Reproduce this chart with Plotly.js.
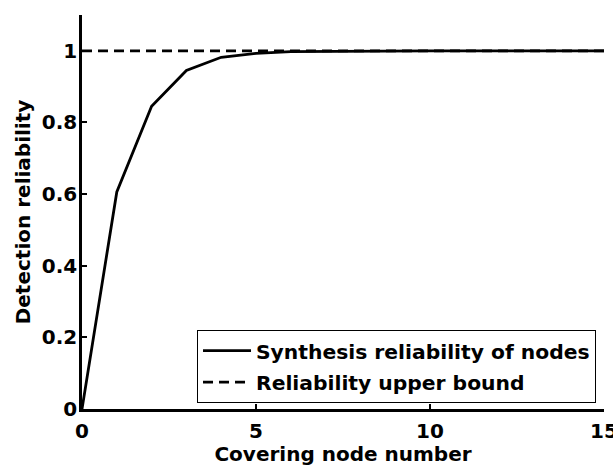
<!DOCTYPE html>
<html>
<head>
<meta charset="utf-8">
<script src="https://cdn.plot.ly/plotly-3.0.1.min.js"></script>
<style>html,body{margin:0;padding:0;background:#fff;}#chart{width:613px;height:466px;}</style>
</head>
<body>
<div id="chart"></div>
<script>
const nodeCounts = [0,1,2,3,4,5,6,7,8,9,10,11,12,13,14,15];
const synthesisReliability = [0,0.606,0.845,0.945,0.982,0.993,0.998,0.999,1,1,1,1,1,1,1,1];
const boundX = [0,15];
const upperBound = [1,1];
const yTicks = [0,0.2,0.4,0.6,0.8,1];
const yTickText = ['0','0.2','0.4','0.6','0.8','1'];
const xTicks = [0,5,10,15];

const FONT = 'DejaVu Sans, Arial, sans-serif';

const traces = [
  {x: boundX, y: upperBound, mode:'lines', name:'Reliability upper bound',
   line:{color:'#000', width:2.8, dash:'10px,6px'}, legendrank:2, legendgroup:'b'},
  {x: nodeCounts, y: synthesisReliability, mode:'lines', name:'Synthesis reliability of nodes',
   line:{color:'#000', width:2.8}, legendrank:1, legendgroup:'a'}
];

const layout = {
  width:613, height:466,
  margin:{l:82, r:9, t:15, b:57, pad:0},
  paper_bgcolor:'#fff', plot_bgcolor:'#fff',
  font:{family:FONT, color:'#000', size:20, weight:'bold'},
  showlegend:true,
  legend:{x:0.9847, y:0.0152, xanchor:'right', yanchor:'bottom',
    bordercolor:'#000', borderwidth:1, bgcolor:'#fff',
    font:{family:FONT, size:20.3, weight:'bold', color:'#000'},
    itemwidth:48,
    tracegroupgap:2},
  xaxis:{range:[0,15], tickvals:xTicks, ticks:'inside', ticklen:5, tickwidth:2,
    tickcolor:'#000', showline:true, linecolor:'#000', linewidth:2.8,
    showgrid:false, zeroline:false, fixedrange:true, automargin:false,
    ticklabelstandoff:2, ticklabeloverflow:'allow',
    tickfont:{family:FONT, size:20, weight:'bold', color:'#000'},
    title:{text:'Covering node number', standoff:4,
      font:{family:FONT, size:20, weight:'bold', color:'#000'}}},
  yaxis:{range:[0,1.1], tickvals:yTicks, ticktext:yTickText, ticks:'inside', ticklen:5, tickwidth:2,
    tickcolor:'#000', showline:true, linecolor:'#000', linewidth:2.8,
    showgrid:false, zeroline:false, fixedrange:true, automargin:false,
    ticklabelstandoff:-2, ticklabeloverflow:'allow',
    tickfont:{family:FONT, size:20, weight:'bold', color:'#000'},
    title:{text:'Detection reliability', standoff:6,
      font:{family:FONT, size:20, weight:'bold', color:'#000'}}}
};

Plotly.newPlot('chart', traces, layout, {displayModeBar:false, staticPlot:true});
</script>
</body>
</html>
